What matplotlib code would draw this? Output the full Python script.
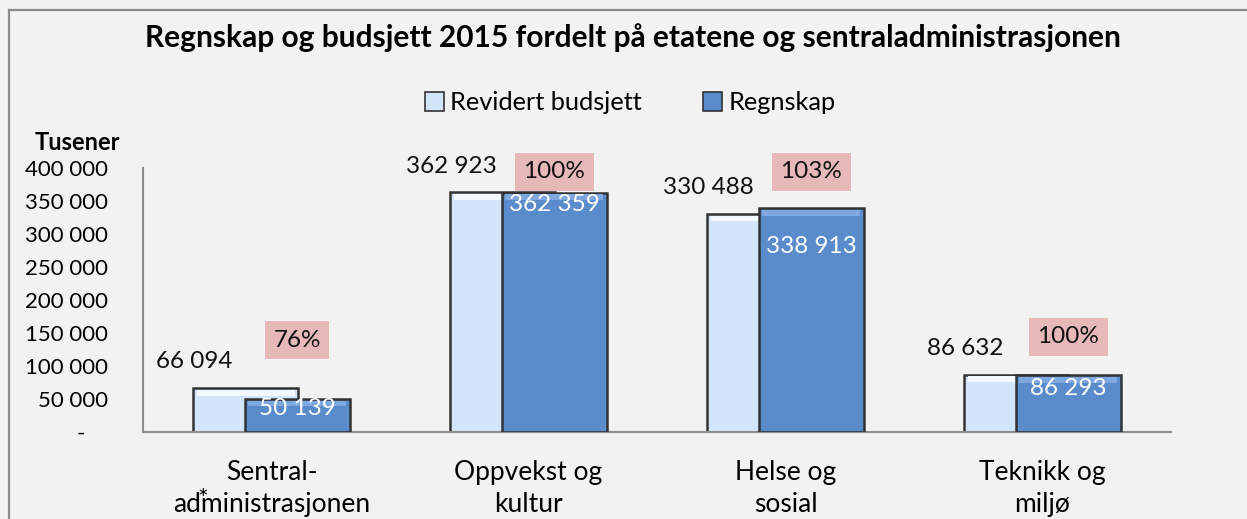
import numpy as np
import matplotlib
matplotlib.use('Agg')
import matplotlib.pyplot as plt
from matplotlib.patches import Patch
from matplotlib.lines import Line2D
from matplotlib.ticker import FixedLocator

plt.rcParams['font.family'] = ['Lato', 'DejaVu Sans']

# data (tusener)
categories = ['Sentral-\nadministrasjonen', 'Oppvekst og\nkultur', 'Helse og\nsosial', 'Teknikk og\nmiljø']
budsjett = [66094, 362923, 330488, 86632]
regnskap = [50139, 362359, 338913, 86293]
yticks = [0, 50000, 100000, 150000, 200000, 250000, 300000, 350000, 400000]
ytick_labels = ['-    ', '50 000', '100 000', '150 000', '200 000', '250 000', '300 000', '350 000', '400 000']

# where the white value labels sit below the bar top
regnskap_label_dy = [-14000, -17000, -58000, -21000]
pct_label_y = [139000, 394000, 394000, 144000]

bg = '#f2f2f2'
c_bud = '#d3e5fb'
c_reg = '#5a8bcb'
c_edge = '#333333'


def fmt(v):
    return f'{v:,}'.replace(',', ' ')


fig = plt.figure(figsize=(12.47, 5.19), dpi=100, facecolor=bg)
ax = fig.add_axes([143 / 1247, 1 - 432 / 519, (1171 - 143) / 1247, (432 - 168) / 519])
ax.set_facecolor(bg)

x = np.arange(len(categories))
w = 0.41
off = 0.1
bevel = 9000

ax.bar(x - off, budsjett, w, color=c_bud, edgecolor=c_edge, linewidth=1.8, zorder=2)
ax.bar(x - off, [bevel] * 4, w - 0.03, bottom=np.array(budsjett) - bevel - 2500,
       color='#f2f8ff', linewidth=0, zorder=2.5)
ax.bar(x + off, regnskap, w, color=c_reg, edgecolor=c_edge, linewidth=1.8, zorder=3)
ax.bar(x + off, [bevel] * 4, w - 0.03, bottom=np.array(regnskap) - bevel - 2500,
       color='#7ea8df', linewidth=0, zorder=3.5)

for i in range(len(categories)):
    ax.text(x[i] - 0.3, budsjett[i] + 40000, fmt(budsjett[i]), ha='center', va='center',
            fontsize=17.5, color='#111111', zorder=5)
    ax.text(x[i] + 0.1, regnskap[i] + regnskap_label_dy[i], fmt(regnskap[i]), ha='center',
            va='center', fontsize=17.5, color='white', zorder=5)
    pct = round(regnskap[i] / budsjett[i] * 100)
    ax.text(x[i] + 0.1, pct_label_y[i], f'{pct}%', ha='center', va='center', fontsize=17.5,
            color='#111111', zorder=5,
            bbox=dict(boxstyle='square,pad=0.35', facecolor='#e6b9b8', edgecolor='none'))

ax.set_xlim(-0.5, 3.5)
ax.set_ylim(0, 400000)
ax.yaxis.set_major_locator(FixedLocator(yticks))
ax.set_yticklabels(ytick_labels, fontsize=16)
ax.set_xticks(x)
ax.set_xticklabels(categories, fontsize=19, linespacing=1.38)
ax.tick_params(axis='y', length=0, pad=25)
ax.tick_params(axis='x', length=0, pad=20)
for s in ['top', 'right']:
    ax.spines[s].set_visible(False)
for s in ['left', 'bottom']:
    ax.spines[s].set_color('#8c8c8c')
    ax.spines[s].set_linewidth(1.5)

fig.text(203 / 1247, 1 - 500 / 519, '*', ha='center', va='center', fontsize=18)
fig.text(77 / 1247, 1 - 142 / 519, 'Tusener', ha='center', va='center', fontsize=17,
         fontweight='bold')
fig.text(633 / 1247, 1 - 38 / 519, 'Regnskap og budsjett 2015 fordelt på etatene og sentraladministrasjonen',
         ha='center', va='center', fontsize=21.5, fontweight='bold')

handles = [Patch(facecolor=c_bud, edgecolor=c_edge, linewidth=1.2),
           Patch(facecolor=c_reg, edgecolor=c_edge, linewidth=1.2)]
fig.legend(handles, ['Revidert budsjett', 'Regnskap'], loc='center', bbox_to_anchor=(630 / 1247, 1 - 103 / 519),
           ncol=2, frameon=False, fontsize=18.3, handlelength=0.75, handleheight=0.75, handletextpad=0.25,
           columnspacing=2.4)

# outer chart border (top and left visible)
fig.add_artist(Line2D([9 / 1247, 9 / 1247], [0, 1 - 10 / 519], color='#8c8c8c', linewidth=1.6))
fig.add_artist(Line2D([9 / 1247, 1], [1 - 10 / 519, 1 - 10 / 519], color='#8c8c8c', linewidth=1.6))

fig.savefig('out.png', dpi=100, facecolor=bg)
